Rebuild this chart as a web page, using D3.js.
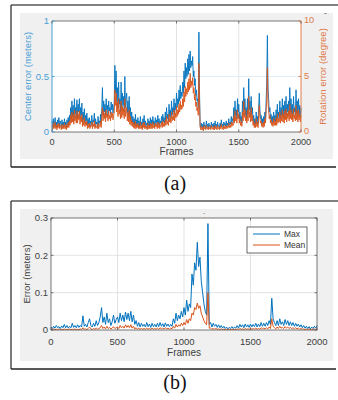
<!DOCTYPE html>
<html><head><meta charset="utf-8">
<script src="https://cdn.jsdelivr.net/npm/d3@7/dist/d3.min.js"></script>
<style>body{margin:0;background:#fff}svg{display:block;font-family:"Liberation Sans",Arial,sans-serif}</style>
</head><body><svg id="c" width="338" height="400"></svg>
<script>
// Panel (a): sampled every 5 frames; panel (b): every 10 frames (0..2000)
const frameStepA = 5;
const frameStepB = 10;
const xTicks = [0, 500, 1000, 1500, 2000];
const aLeftTicks = [0, 0.5, 1];
const aRightTicks = [0, 5, 10];
const bTicks = [0, 0.1, 0.2, 0.3];
const legendLabels = ["Max", "Mean"];

// (a) center error (meters)
const centerError = [
0.10,0.05,0.12,0.04,0.08,0.13,0.06,0.09,0.04,0.11,0.07,0.13,0.05,0.10,0.08,0.04,0.11,0.06,0.09,0.05,
0.12,0.06,0.09,0.04,0.11,0.07,0.13,0.06,0.15,0.09,0.22,0.12,0.28,0.14,0.24,0.10,0.30,0.16,0.22,0.12,
0.29,0.13,0.25,0.18,0.30,0.12,0.22,0.15,0.26,0.09,0.18,0.11,0.21,0.08,0.15,0.10,0.17,0.06,0.12,0.07,
0.13,0.05,0.10,0.08,0.15,0.06,0.11,0.09,0.17,0.05,0.12,0.07,0.09,0.05,0.14,0.06,0.10,0.08,0.16,0.07,
0.22,0.40,0.15,0.28,0.18,0.25,0.14,0.30,0.20,0.24,0.15,0.28,0.19,0.22,0.16,0.27,0.20,0.25,0.17,0.22,
0.26,0.60,0.35,0.55,0.28,0.40,0.22,0.45,0.25,0.30,0.18,0.45,0.20,0.35,0.24,0.32,0.18,0.50,0.22,0.30,
0.35,0.17,0.28,0.14,0.32,0.12,0.22,0.10,0.18,0.08,0.14,0.07,0.12,0.06,0.16,0.05,0.11,0.07,0.13,0.05,
0.10,0.05,0.14,0.06,0.09,0.04,0.12,0.07,0.15,0.05,0.10,0.06,0.08,0.04,0.12,0.06,0.10,0.05,0.13,0.06,
0.11,0.06,0.14,0.07,0.10,0.05,0.13,0.08,0.11,0.06,0.15,0.07,0.12,0.06,0.10,0.08,0.14,0.07,0.16,0.09,
0.13,0.08,0.18,0.10,0.22,0.12,0.16,0.10,0.25,0.14,0.20,0.13,0.28,0.15,0.22,0.18,0.30,0.16,0.26,0.20,
0.35,0.22,0.30,0.25,0.38,0.28,0.42,0.30,0.36,0.32,0.45,0.35,0.55,0.40,0.62,0.48,0.58,0.50,0.66,0.52,
0.70,0.55,0.73,0.58,0.64,0.60,0.68,0.50,0.55,0.42,0.48,0.33,0.38,0.28,0.30,0.22,0.90,0.35,0.06,0.04,
0.08,0.04,0.07,0.03,0.09,0.05,0.06,0.04,0.10,0.05,0.07,0.03,0.08,0.05,0.06,0.04,0.09,0.05,0.07,0.04,
0.08,0.04,0.10,0.05,0.07,0.04,0.09,0.05,0.06,0.04,0.08,0.05,0.11,0.05,0.07,0.04,0.09,0.06,0.08,0.05,
0.10,0.05,0.08,0.06,0.12,0.06,0.09,0.07,0.14,0.08,0.12,0.10,0.22,0.12,0.28,0.15,0.20,0.12,0.30,0.18,
0.25,0.12,0.18,0.10,0.14,0.08,0.28,0.15,0.40,0.20,0.30,0.15,0.22,0.12,0.30,0.16,0.48,0.20,0.28,0.14,
0.32,0.16,0.22,0.10,0.15,0.07,0.12,0.06,0.18,0.08,0.14,0.07,0.22,0.35,0.20,0.12,0.15,0.08,0.12,0.07,
0.14,0.08,0.18,0.12,0.28,0.45,0.87,0.40,0.30,0.18,0.22,0.12,0.16,0.09,0.14,0.08,0.18,0.10,0.15,0.09,
0.20,0.10,0.25,0.12,0.18,0.14,0.28,0.12,0.22,0.15,0.30,0.14,0.24,0.12,0.28,0.16,0.32,0.14,0.25,0.18,
0.28,0.15,0.40,0.18,0.30,0.16,0.25,0.14,0.32,0.18,0.22,0.15,0.38,0.17,0.28,0.14,0.30,0.16,0.24,0.13,
0.22];
// (a) rotation error (degree)
const rotationError = [
0.6,0.2,0.8,0.3,0.5,0.9,0.3,0.6,0.2,0.7,0.4,0.8,0.3,0.6,0.5,0.2,0.7,0.3,0.6,0.3,
0.8,0.3,0.6,0.2,0.7,0.4,0.9,0.4,1.0,0.6,1.5,0.8,1.8,0.9,1.6,0.7,2.0,1.0,1.5,0.8,
1.9,0.8,1.6,1.1,1.9,0.7,1.4,0.9,1.6,0.5,1.1,0.6,1.3,0.5,0.9,0.6,1.0,0.3,0.7,0.4,
0.8,0.3,0.6,0.5,0.9,0.3,0.7,0.5,1.0,0.3,0.7,0.4,0.5,0.3,0.8,0.3,0.6,0.5,1.0,0.4,
1.5,2.2,1.0,1.9,1.2,1.7,0.9,2.0,1.3,1.6,1.0,1.9,1.2,1.5,1.0,1.8,1.3,1.7,1.1,1.5,
1.8,3.8,2.4,3.5,1.8,2.7,1.4,3.0,1.6,2.0,1.2,2.8,1.3,2.3,1.5,2.1,1.2,3.0,1.4,2.0,
2.2,1.0,1.8,0.9,2.0,0.7,1.4,0.6,1.1,0.5,0.9,0.4,0.8,0.3,1.0,0.3,0.7,0.4,0.8,0.3,
0.6,0.3,0.9,0.3,0.6,0.2,0.8,0.4,0.9,0.3,0.6,0.3,0.5,0.2,0.8,0.3,0.6,0.3,0.8,0.3,
0.7,0.3,0.9,0.4,0.6,0.3,0.8,0.5,0.7,0.3,0.9,0.4,0.8,0.3,0.6,0.5,0.9,0.4,1.0,0.5,
0.8,0.5,1.1,0.6,1.4,0.7,1.0,0.6,1.6,0.9,1.3,0.8,1.8,1.0,1.4,1.1,2.0,1.0,1.7,1.3,
2.3,1.4,2.0,1.6,2.5,1.8,2.8,2.0,2.4,2.1,3.0,2.3,3.6,2.7,4.1,3.2,3.9,3.4,4.5,3.6,
4.8,3.8,5.3,4.0,4.6,4.2,4.9,3.5,4.0,2.9,3.4,2.3,2.7,1.9,2.2,1.5,6.2,2.5,0.4,0.2,
0.5,0.2,0.4,0.1,0.6,0.3,0.4,0.2,0.6,0.3,0.4,0.2,0.5,0.3,0.4,0.2,0.6,0.3,0.4,0.2,
0.5,0.2,0.6,0.3,0.4,0.2,0.6,0.3,0.4,0.2,0.5,0.3,0.7,0.3,0.4,0.2,0.6,0.3,0.5,0.3,
0.6,0.3,0.5,0.4,0.8,0.4,0.6,0.4,0.9,0.5,0.8,0.6,1.4,0.8,1.9,1.0,1.3,0.8,2.0,1.2,
1.6,0.8,1.2,0.6,0.9,0.5,1.8,1.0,2.8,1.3,2.0,1.0,1.4,0.8,2.0,1.0,3.2,1.3,1.8,0.9,
2.2,1.0,1.5,0.6,1.0,0.4,0.8,0.4,1.2,0.5,0.9,0.4,1.5,2.4,1.3,0.8,1.0,0.5,0.8,0.4,
0.9,0.5,1.2,0.8,1.9,3.0,5.8,2.7,2.0,1.2,1.5,0.8,1.1,0.6,0.9,0.5,1.2,0.6,1.0,0.6,
1.3,0.6,1.6,0.8,1.2,0.9,1.8,0.8,1.5,1.0,2.0,0.9,1.6,0.8,1.9,1.1,2.1,0.9,1.7,1.2,
1.9,1.0,2.5,1.2,2.0,1.1,1.7,0.9,2.1,1.2,1.5,1.0,2.4,1.1,1.9,0.9,2.0,1.1,1.6,0.9,
1.5];
// (b) Max error (meters)
const maxError = [
0.008,0.004,0.010,0.005,0.012,0.006,0.009,0.004,0.011,0.006,
0.015,0.006,0.012,0.005,0.010,0.006,0.018,0.007,0.012,0.006,
0.014,0.007,0.012,0.008,0.038,0.010,0.015,0.008,0.020,0.030,
0.012,0.008,0.018,0.010,0.025,0.012,0.020,0.035,0.060,0.020,
0.035,0.015,0.045,0.020,0.030,0.012,0.022,0.040,0.018,0.028,
0.035,0.020,0.045,0.025,0.040,0.022,0.048,0.028,0.045,0.025,
0.050,0.022,0.040,0.015,0.025,0.010,0.020,0.008,0.018,0.010,
0.015,0.008,0.020,0.009,0.016,0.007,0.018,0.009,0.015,0.008,
0.018,0.009,0.020,0.010,0.017,0.008,0.019,0.010,0.016,0.009,
0.015,0.010,0.030,0.018,0.045,0.025,0.040,0.030,0.050,0.035,
0.060,0.040,0.080,0.050,0.070,0.060,0.150,0.120,0.180,0.160,
0.235,0.170,0.195,0.130,0.100,0.070,0.050,0.040,0.285,0.015,
0.020,0.008,0.018,0.010,0.015,0.007,0.014,0.006,0.012,0.005,
0.010,0.004,0.008,0.003,0.007,0.004,0.009,0.004,0.008,0.005,
0.012,0.005,0.015,0.008,0.014,0.006,0.016,0.008,0.014,0.007,
0.016,0.008,0.015,0.009,0.018,0.008,0.016,0.009,0.020,0.010,
0.018,0.010,0.020,0.012,0.025,0.015,0.085,0.030,0.020,0.012,
0.025,0.012,0.030,0.015,0.022,0.012,0.028,0.015,0.025,0.012,
0.022,0.012,0.020,0.010,0.018,0.010,0.016,0.008,0.014,0.006,
0.012,0.005,0.010,0.004,0.009,0.003,0.008,0.004,0.010,0.005,
0.012];
// (b) Mean error (meters)
const meanError = [
0.002,0.001,0.003,0.001,0.002,0.001,0.003,0.001,0.002,0.001,
0.003,0.001,0.002,0.001,0.003,0.001,0.002,0.001,0.003,0.001,
0.002,0.001,0.003,0.001,0.006,0.002,0.003,0.001,0.004,0.008,
0.003,0.001,0.004,0.002,0.005,0.002,0.004,0.006,0.012,0.004,
0.008,0.003,0.010,0.004,0.007,0.003,0.005,0.009,0.004,0.006,
0.008,0.004,0.012,0.006,0.010,0.005,0.014,0.007,0.012,0.006,
0.014,0.005,0.010,0.003,0.006,0.002,0.005,0.002,0.004,0.002,
0.004,0.002,0.005,0.002,0.004,0.002,0.005,0.002,0.004,0.002,
0.005,0.002,0.006,0.003,0.005,0.002,0.006,0.003,0.005,0.002,
0.005,0.003,0.010,0.005,0.015,0.008,0.014,0.010,0.018,0.012,
0.020,0.014,0.028,0.018,0.030,0.025,0.045,0.040,0.060,0.055,
0.072,0.058,0.065,0.045,0.035,0.025,0.018,0.014,0.100,0.005,
0.005,0.002,0.004,0.002,0.004,0.002,0.003,0.001,0.003,0.001,
0.002,0.001,0.002,0.001,0.002,0.001,0.002,0.001,0.002,0.001,
0.003,0.001,0.004,0.002,0.003,0.001,0.004,0.002,0.003,0.002,
0.004,0.002,0.004,0.002,0.005,0.002,0.004,0.002,0.006,0.003,
0.005,0.003,0.006,0.003,0.008,0.004,0.030,0.010,0.006,0.003,
0.008,0.004,0.010,0.005,0.007,0.004,0.009,0.005,0.008,0.004,
0.007,0.004,0.006,0.003,0.006,0.003,0.005,0.002,0.004,0.002,
0.003,0.001,0.003,0.001,0.003,0.001,0.002,0.001,0.003,0.001,
0.003];

const BLUE = "#0072BD", ORANGE = "#D95319";
const svg = d3.select("#c");
const tickCol = "#404040";

function frame(y0, y1) {
  svg.append("rect").attr("x", 20).attr("y", y0 + 8).attr("width", 313).attr("height", y1 - y0 - 16).attr("fill", "#f0f0f0");
  svg.append("line").attr("x1", 11).attr("x2", 338).attr("y1", y0).attr("y2", y0).attr("stroke", "#808080").attr("stroke-width", 2);
  svg.append("line").attr("x1", 11).attr("x2", 11).attr("y1", y0).attr("y2", y1).attr("stroke", "#222").attr("stroke-width", 1.2);
  svg.append("line").attr("x1", 11).attr("x2", 336).attr("y1", y1).attr("y2", y1).attr("stroke", "#222").attr("stroke-width", 1.5);
}
frame(5, 167);
frame(201, 369);

const pts = (arr, step) => arr.map((v, i) => [i * step, v]);

// ---------- Panel (a)
{
  const L = 52, R = 301, T = 21, B = 132;
  const x = d3.scaleLinear().domain([0, 2000]).range([L, R]);
  const yl = d3.scaleLinear().domain([0, 1]).range([B, T]);
  const yr = d3.scaleLinear().domain([0, 10]).range([B, T]);
  const g = svg.append("g");
  g.append("rect").attr("x", L).attr("y", T).attr("width", R - L).attr("height", B - T).attr("fill", "#fff");
  [500, 1000, 1500].forEach(v => g.append("line").attr("x1", x(v)).attr("x2", x(v)).attr("y1", T).attr("y2", B).attr("stroke", "#dcdcdc").attr("stroke-width", 0.8));
  g.append("line").attr("x1", L).attr("x2", R).attr("y1", yl(0.5)).attr("y2", yl(0.5)).attr("stroke", "#dde8f2").attr("stroke-width", 0.8);
  const lineL = d3.line().x(d => x(d[0])).y(d => yl(d[1]));
  const lineR = d3.line().x(d => x(d[0])).y(d => yr(d[1]));
  g.append("path").attr("d", lineL(pts(centerError, frameStepA))).attr("fill", "none").attr("stroke", BLUE).attr("stroke-width", 0.9);
  g.append("path").attr("d", lineR(pts(rotationError, frameStepA))).attr("fill", "none").attr("stroke", ORANGE).attr("stroke-width", 0.9);
  g.append("line").attr("x1", L).attr("x2", R).attr("y1", T).attr("y2", T).attr("stroke", "#555").attr("stroke-width", 0.8);
  g.append("line").attr("x1", L).attr("x2", R).attr("y1", B).attr("y2", B).attr("stroke", "#555").attr("stroke-width", 0.8);
  g.append("line").attr("x1", L).attr("x2", L).attr("y1", T).attr("y2", B).attr("stroke", "#4a9fd6").attr("stroke-width", 1);
  g.append("line").attr("x1", R).attr("x2", R).attr("y1", T).attr("y2", B).attr("stroke", "#e07a4a").attr("stroke-width", 1);
  xTicks.forEach(v => {
    g.append("line").attr("x1", x(v)).attr("x2", x(v)).attr("y1", B).attr("y2", B - 2.5).attr("stroke", "#555").attr("stroke-width", 0.8);
    g.append("line").attr("x1", x(v)).attr("x2", x(v)).attr("y1", T).attr("y2", T + 2.5).attr("stroke", "#555").attr("stroke-width", 0.8);
    g.append("text").attr("x", x(v)).attr("y", 145).attr("text-anchor", "middle").attr("font-size", 9.2).attr("fill", tickCol).text(v);
  });
  aLeftTicks.forEach(v => {
    g.append("line").attr("x1", L).attr("x2", L + 2.5).attr("y1", yl(v)).attr("y2", yl(v)).attr("stroke", "#4a9fd6");
    g.append("text").attr("x", 49).attr("y", yl(v) + 3.3).attr("text-anchor", "end").attr("font-size", 9.5).attr("fill", "#4a9fd6").text(v);
  });
  aRightTicks.forEach(v => {
    g.append("line").attr("x1", R).attr("x2", R - 2.5).attr("y1", yr(v)).attr("y2", yr(v)).attr("stroke", "#e07a4a");
    g.append("text").attr("x", 304).attr("y", yr(v) + 2.4).attr("text-anchor", "start").attr("font-size", 9.2).attr("fill", "#e07a4a").text(v);
  });
  g.append("text").attr("x", (L + R) / 2).attr("y", 154.5).attr("text-anchor", "middle").attr("font-size", 10).attr("fill", tickCol).text("Frames");
  g.append("text").attr("transform", `translate(31,${(T + B) / 2}) rotate(-90)`).attr("text-anchor", "middle").attr("font-size", 9.5).attr("fill", "#4a9fd6").text("Center error (meters)");
  g.append("text").attr("transform", `translate(326,${(T + B) / 2}) rotate(-90)`).attr("text-anchor", "middle").attr("font-size", 9.5).attr("fill", "#e07a4a").text("Rotation error (degree)");
  g.append("line").attr("x1", 324).attr("x2", 327).attr("y1", 13.5).attr("y2", 13.5).attr("stroke", "#888").attr("stroke-width", 0.8);
}

// ---------- Panel (b)
{
  const L = 51, R = 317, T = 218, B = 330;
  const x = d3.scaleLinear().domain([0, 2000]).range([L, R]);
  const y = d3.scaleLinear().domain([0, 0.3]).range([B, T]);
  const g = svg.append("g");
  g.append("rect").attr("x", L).attr("y", T).attr("width", R - L).attr("height", B - T).attr("fill", "#fff");
  [500, 1000, 1500].forEach(v => g.append("line").attr("x1", x(v)).attr("x2", x(v)).attr("y1", T).attr("y2", B).attr("stroke", "#dcdcdc").attr("stroke-width", 0.8));
  [0.1, 0.2].forEach(v => g.append("line").attr("x1", L).attr("x2", R).attr("y1", y(v)).attr("y2", y(v)).attr("stroke", "#dcdcdc").attr("stroke-width", 0.8));
  const line = d3.line().x(d => x(d[0])).y(d => y(d[1]));
  g.append("path").attr("d", line(pts(maxError, frameStepB))).attr("fill", "none").attr("stroke", BLUE).attr("stroke-width", 1);
  g.append("path").attr("d", line(pts(meanError, frameStepB))).attr("fill", "none").attr("stroke", ORANGE).attr("stroke-width", 1);
  g.append("rect").attr("x", L).attr("y", T).attr("width", R - L).attr("height", B - T).attr("fill", "none").attr("stroke", "#555").attr("stroke-width", 0.8);
  xTicks.forEach(v => {
    g.append("line").attr("x1", x(v)).attr("x2", x(v)).attr("y1", B).attr("y2", B - 2.5).attr("stroke", "#555").attr("stroke-width", 0.8);
    g.append("line").attr("x1", x(v)).attr("x2", x(v)).attr("y1", T).attr("y2", T + 2.5).attr("stroke", "#555").attr("stroke-width", 0.8);
    g.append("text").attr("x", x(v)).attr("y", 344.5).attr("text-anchor", "middle").attr("font-size", 9.5).attr("fill", tickCol).text(v);
  });
  bTicks.forEach(v => {
    g.append("line").attr("x1", L).attr("x2", L + 2.5).attr("y1", y(v)).attr("y2", y(v)).attr("stroke", "#555").attr("stroke-width", 0.8);
    g.append("line").attr("x1", R).attr("x2", R - 2.5).attr("y1", y(v)).attr("y2", y(v)).attr("stroke", "#555").attr("stroke-width", 0.8);
    g.append("text").attr("x", 48).attr("y", y(v) + 3.3).attr("text-anchor", "end").attr("font-size", 9.5).attr("fill", tickCol).text(v);
  });
  g.append("text").attr("x", (L + R) / 2).attr("y", 355.5).attr("text-anchor", "middle").attr("font-size", 10).attr("fill", tickCol).text("Frames");
  g.append("text").attr("transform", `translate(30,${(T + B) / 2}) rotate(-90)`).attr("text-anchor", "middle").attr("font-size", 9.5).attr("fill", tickCol).text("Error (meters)");
  g.append("text").attr("x", 204).attr("y", 214).attr("text-anchor", "middle").attr("font-size", 8).attr("fill", "#333").text(".");
  const lg = g.append("g");
  lg.append("rect").attr("x", 247).attr("y", 227).attr("width", 60).attr("height", 26).attr("fill", "#fff").attr("stroke", "#444").attr("stroke-width", 0.8);
  [BLUE, ORANGE].forEach((c, i) => {
    const yy = 234 + i * 11;
    lg.append("line").attr("x1", 253).attr("x2", 280).attr("y1", yy).attr("y2", yy).attr("stroke", c).attr("stroke-width", 1);
    lg.append("text").attr("x", 284).attr("y", yy + 3).attr("font-size", 8.5).attr("fill", "#333").text(legendLabels[i]);
  });
}

svg.append("text").attr("x", 175).attr("y", 190).attr("text-anchor", "middle").attr("font-family", "'Liberation Serif','Times New Roman',serif").attr("font-size", 20).attr("fill", "#111").text("(a)");
svg.append("text").attr("x", 175).attr("y", 389).attr("text-anchor", "middle").attr("font-family", "'Liberation Serif','Times New Roman',serif").attr("font-size", 20).attr("fill", "#111").text("(b)");
</script></body></html>
